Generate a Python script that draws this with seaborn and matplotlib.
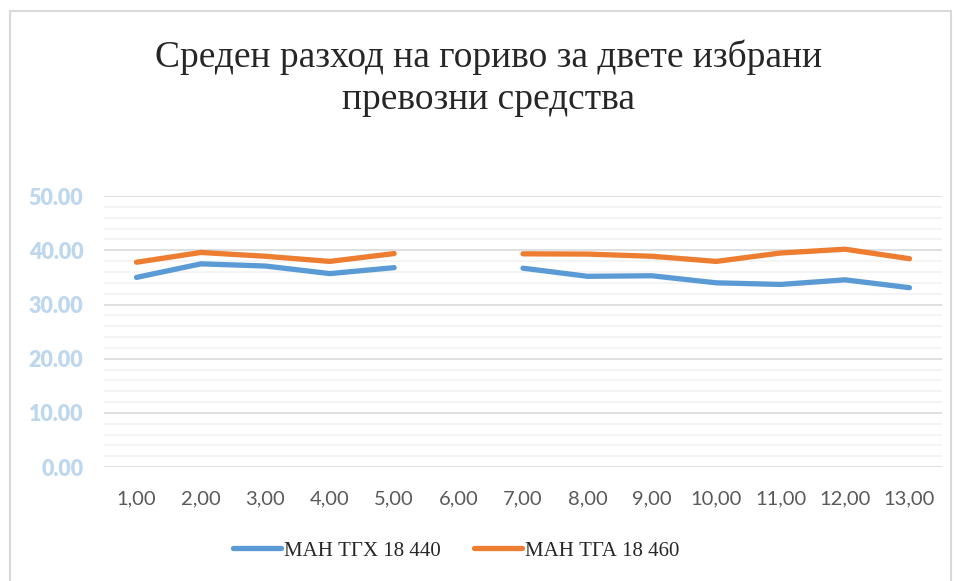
import numpy as np
import pandas as pd
import matplotlib.pyplot as plt
import seaborn as sns
from matplotlib.patches import Rectangle

# chart data
x_values = [1, 2, 3, 4, 5, 6, 7, 8, 9, 10, 11, 12, 13]
man_tgx = [35.0, 37.5, 37.1, 35.7, 36.8, np.nan, 36.7, 35.2, 35.3, 34.0, 33.7, 34.55, 33.1]
man_tga = [37.8, 39.6, 38.9, 37.95, 39.4, np.nan, 39.35, 39.3, 38.9, 37.95, 39.5, 40.2, 38.45]
series_names = ['МАН ТГХ 18 440', 'МАН ТГА 18 460']
x_labels = ['1,00', '2,00', '3,00', '4,00', '5,00', '6,00', '7,00',
            '8,00', '9,00', '10,00', '11,00', '12,00', '13,00']
y_ticks = [0, 10, 20, 30, 40, 50]

# long form, gap at 6 splits each line into two segments
rows = []
for name, vals in zip(series_names, [man_tgx, man_tga]):
    seg = 0
    for x, v in zip(x_values, vals):
        if np.isnan(v):
            seg += 1
            continue
        rows.append({'x': x, 'value': v, 'series': name, 'segment': seg})
df = pd.DataFrame(rows)

sns.set_style('white')

fig = plt.figure(figsize=(9.57, 5.81), dpi=100)
ax = fig.add_axes([0.109, 0.196, 0.875, 0.4665])

palette = {series_names[0]: '#5B9BD5', series_names[1]: '#ED7D31'}
sns.lineplot(data=df, x='x', y='value', hue='series', units='segment',
             estimator=None, palette=palette, linewidth=3.8,
             solid_capstyle='round', ax=ax)

ax.set_xlim(0.5, 13.5)
ax.set_ylim(0, 50)
ax.set_xticks(x_values)
ax.set_xticklabels(x_labels, fontsize=14.5, color='#595959', family='Lato')
ax.set_yticks(y_ticks)
ax.set_yticklabels(['%.2f' % v for v in y_ticks], fontsize=15.5, color='#BDD7EE',
                   family='Lato', fontweight='heavy')
ax.set_yticks(np.arange(0, 51, 2), minor=True)
ax.tick_params(axis='both', length=0)
ax.tick_params(axis='x', pad=17)
ax.tick_params(axis='y', pad=15)
ax.grid(axis='y', which='major', color='#D9D9D9', linewidth=1.2)
ax.grid(axis='y', which='minor', color='#F2F2F2', linewidth=1.2)
ax.set_axisbelow(True)
for s in ax.spines.values():
    s.set_visible(False)
ax.set_xlabel('')
ax.set_ylabel('')

sns.move_legend(ax, 'center', bbox_to_anchor=(0.477, 0.052),
                bbox_transform=fig.transFigure, ncol=2, frameon=False,
                title=None, prop={'family': 'Liberation Serif', 'size': 15},
                handlelength=2.3, handletextpad=0.15, columnspacing=1.6)
for line in ax.get_legend().get_lines():
    line.set_linewidth(3.8)

fig.text(0.51, 0.865, 'Среден разход на гориво за двете избрани\nпревозни средства',
         ha='center', va='center', fontsize=27, family='Liberation Serif',
         linespacing=1.28)

# outer chart border
fig.patches.append(Rectangle((0.0105, -0.05), 0.983, 1.031, transform=fig.transFigure,
                             fill=False, edgecolor='#D9D9D9', linewidth=1.5))

fig.savefig('out.png', dpi=100)
